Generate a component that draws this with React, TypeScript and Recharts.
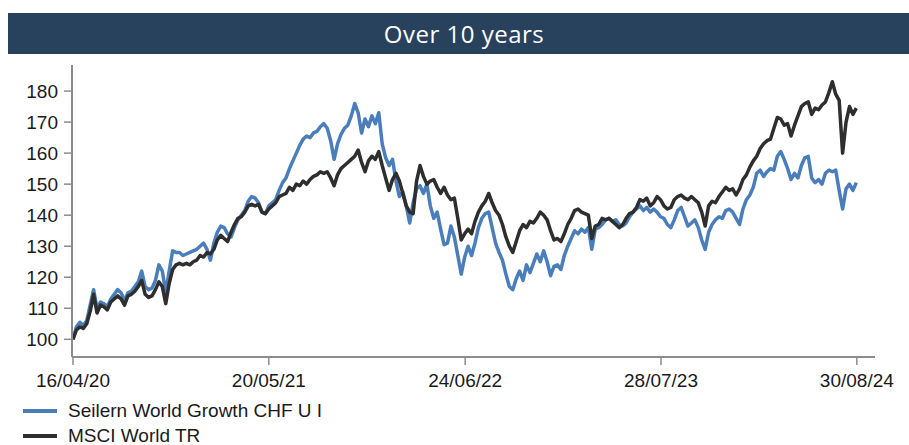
import { LineChart, Line, XAxis, YAxis } from "recharts";

const title = "Over 10 years";
const seriesNames = ["Seilern World Growth CHF U I", "MSCI World TR"];
const startDate = "16/04/20";
const stepDays = 7;
const tickLabels = ["16/04/20", "20/05/21", "24/06/22", "28/07/23", "30/08/24"];
const yTicks = [100, 110, 120, 130, 140, 150, 160, 170, 180];

// weekly values, index 0 = 16/04/20
const seilern = [
  100, 104, 105.5, 104.5, 106, 111, 116, 110, 112, 111.5,
  110.5, 113, 114.5, 116, 115, 112.5, 115, 115.5, 117, 118.5,
  122, 117, 116, 116.5, 119, 124, 122, 115, 122, 128.5,
  128, 128, 127, 127.5, 128, 128.5, 129, 130, 131, 129,
  125.5, 131, 134.5, 136.5, 136, 134, 133, 136, 138.5, 140,
  141.5, 144.5, 146, 145.5, 144, 141, 140.5, 143, 144, 145,
  148, 150.5, 152, 155, 157.5, 160, 162.5, 164.5, 165.5, 165,
  166.5, 167, 168.5, 169.5, 168, 164, 158, 163, 166, 168,
  169, 172, 176, 173, 166.5, 171, 168.5, 172, 169.5, 173,
  163, 158.5, 156, 158, 151, 146, 147.5, 143, 137.5, 144,
  148.5, 149.5, 147, 150, 143, 139, 141, 135.5, 130.5, 131,
  136.5, 133, 127, 121, 126.5, 130, 127, 131, 136, 139,
  140.5, 141, 136, 131, 128, 125.5, 121, 117, 116, 119.5,
  122, 119, 124, 121.5, 124.5, 127.5, 125, 128.5, 125, 120.5,
  123.5, 124, 122.5, 127, 130, 132.5, 135, 134, 135.5, 134.5,
  136, 129, 135.5, 136, 137, 138.5, 139, 138, 138.5, 137,
  136.5, 137.5, 139.5, 141, 142, 143, 141.5, 142.5, 141, 142,
  141, 139.5, 139, 137, 136, 138.5, 141.5, 142.5, 139.5, 136.5,
  137.5, 138.5, 136, 132, 129, 134.5, 137, 138.5, 139.5, 139,
  141.5, 142, 141, 139, 137, 142, 145, 146.5, 149, 153.5,
  154.5, 152.5, 154, 155, 154.5, 159, 160.5, 158, 155, 151.5,
  153.5, 152, 156, 158.5, 159, 152, 150.5, 151.5, 150, 153.5,
  154.5, 154, 154.5, 148, 142, 148.5, 150, 148, 150.5,
];

const msci = [
  100, 103, 104, 103.5, 105, 109, 114.5, 108.5, 111, 110.5,
  109.5, 112, 113, 114, 113, 111, 114, 114.5, 115.5, 117,
  119, 114.5, 113.5, 114, 116, 118.5, 117, 111.5, 118, 122.5,
  124, 124.5, 124, 124.5, 124, 125, 125.5, 127, 126.5, 128,
  127.5, 129, 132, 133.5, 132.5, 131.5, 134.5, 137, 139, 139.5,
  141, 143, 143.5, 143, 143.5, 141, 140.5, 142, 143, 144,
  146, 146.5, 147, 149, 148, 150, 149.5, 151, 150, 151.5,
  152.5, 153, 154, 153.5, 154, 152, 149.5, 153, 155, 156,
  157, 158, 159, 161, 157, 154, 157.5, 159, 158, 160.5,
  156, 152, 148, 151.5, 153.5, 151, 147, 143, 141, 140.5,
  151, 156, 152.5, 150, 151, 151.5, 149, 147, 149, 146.5,
  145, 145.5, 139, 132, 134, 135.5, 134, 138, 141, 143,
  144.5, 147, 144, 141.5, 140, 137, 133, 130, 128, 131.5,
  135, 137, 136, 138, 137.5, 139, 141, 140, 138.5, 135,
  132, 132.5, 131.5, 134, 137, 139, 141.5, 142, 141, 140.5,
  140, 132.5, 136.5, 137, 139, 138.5, 139, 138, 137, 136,
  137, 139, 140.5, 141, 142.5, 145, 144.5, 145.5, 143, 144,
  146, 145, 143, 142, 142.5, 145, 146, 146.5, 145.5, 145,
  146, 145, 144, 141, 136.5, 143, 144.5, 144, 146, 147.5,
  149, 148, 148.5, 146.5, 148.5, 151.5, 153, 155.5, 157.5, 159,
  161.5, 163, 164, 164.5, 168, 171.5, 171, 169, 169.5, 165.5,
  169, 172, 175, 176, 176.5, 172.5, 174.5, 174, 175.5, 176.5,
  179.5, 183, 179, 177, 160, 170, 175, 172.5, 174.5,
];

const colors = ["#4a7ebb", "#2e2e2e"];
const font = "'Liberation Sans', Arial, sans-serif";

function dayOffset(label: string) {
  const [d, m, y] = label.split("/").map(Number);
  const [d0, m0, y0] = startDate.split("/").map(Number);
  return Math.round((Date.UTC(2000 + y, m - 1, d) - Date.UTC(2000 + y0, m0 - 1, d0)) / 86400000);
}

const tickDays = tickLabels.map(dayOffset);
const rows = seilern.map((v, i) => ({ day: i * stepDays, seilern: v, msci: msci[i] }));

function fmtTick(day: number) {
  const i = tickDays.indexOf(day);
  return i >= 0 ? tickLabels[i] : "";
}

export default function App() {
  const tick = { fontSize: 19, fill: "#1a1a1a", fontFamily: font };
  const axisColor = "#8c8c8c";
  return (
    <div style={{ position: "absolute", left: 0, top: 0, width: 909, height: 445, background: "#fff" }}>
      <div
        style={{
          position: "absolute",
          left: 8,
          top: 13,
          width: 901,
          height: 41,
          background: "#28425e",
          color: "#fff",
          display: "flex",
          alignItems: "center",
          justifyContent: "center",
          fontFamily: "'Open Sans', sans-serif",
          fontSize: 24,
          letterSpacing: 0.5,
          paddingLeft: 11,
          boxSizing: "border-box",
        }}
      >
        {title}
      </div>
      <div style={{ position: "absolute", left: 0, top: 0 }}>
        <LineChart width={909} height={445} data={rows} margin={{ top: 65, right: 34, bottom: 58, left: 0 }}>
          <XAxis
            dataKey="day"
            type="number"
            domain={[-2, 1634]}
            ticks={tickDays}
            tickFormatter={fmtTick}
            interval={0}
            height={30}
            tick={tick}
            tickSize={8}
            tickMargin={9}
            axisLine={{ stroke: axisColor, strokeWidth: 2 }}
            tickLine={{ stroke: axisColor, strokeWidth: 1.5 }}
          />
          <YAxis
            type="number"
            domain={[94.3, 188.4]}
            allowDataOverflow
            ticks={yTicks}
            interval={0}
            width={72}
            tick={tick}
            tickSize={8}
            tickMargin={6}
            axisLine={{ stroke: axisColor, strokeWidth: 2 }}
            tickLine={{ stroke: axisColor, strokeWidth: 1.5 }}
          />
          <Line
            type="linear"
            dataKey="seilern"
            stroke={colors[0]}
            strokeWidth={3.5}
            strokeLinejoin="round"
            dot={false}
            isAnimationActive={false}
          />
          <Line
            type="linear"
            dataKey="msci"
            stroke={colors[1]}
            strokeWidth={3.5}
            strokeLinejoin="round"
            dot={false}
            isAnimationActive={false}
          />
        </LineChart>
      </div>
      {seriesNames.map((name, i) => (
        <div
          key={name}
          style={{
            position: "absolute",
            left: 23,
            top: 399 + i * 25,
            height: 24,
            display: "flex",
            alignItems: "center",
            fontFamily: font,
            fontSize: 19,
            color: "#1a1a1a",
            whiteSpace: "nowrap",
          }}
        >
          <span style={{ display: "inline-block", width: 34, height: 4, background: colors[i], marginRight: 11 }} />
          {name}
        </div>
      ))}
    </div>
  );
}
